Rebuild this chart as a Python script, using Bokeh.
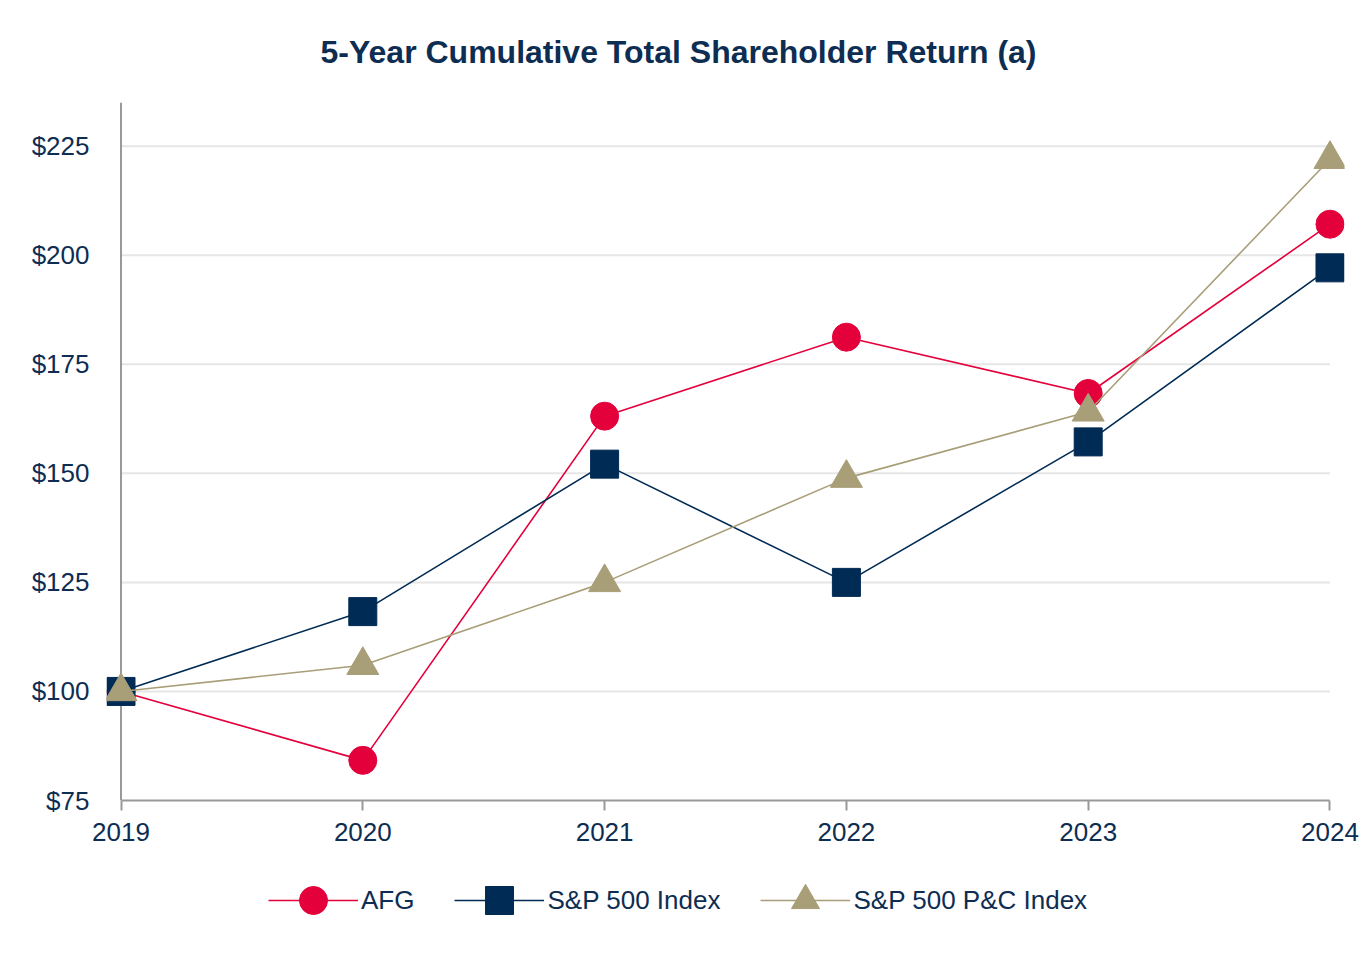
from bokeh.plotting import figure
from bokeh.layouts import column
from bokeh.models import Range1d, FixedTicker, Legend, LegendItem
from bokeh.embed import file_html
from bokeh.resources import INLINE

# ---- data ----
years = [2019, 2020, 2021, 2022, 2023, 2024]
year_labels = ["2019", "2020", "2021", "2022", "2023", "2024"]
afg = [100, 84.2, 163.1, 181.2, 168.3, 207.1]
sp500 = [100, 118.3, 152.1, 125.0, 157.2, 197.1]
sp_pc = [100, 106.0, 125.0, 148.9, 164.1, 222.0]
y_ticks = [75, 100, 125, 150, 175, 200, 225]
y_tick_labels = ["$75", "$100", "$125", "$150", "$175", "$200", "$225"]
series_names = ["AFG", "S&P 500 Index", "S&P 500 P&C Index"]
title_text = "5-Year Cumulative Total Shareholder Return (a)"
y_min, y_max = 75, 235

# ---- style ----
RED = "#E4003B"
NAVY = "#002B54"
TAN = "#A89E78"
TEXT = "#0E2D52"
AXIS = "#999999"
GRID = "#E6E6E6"
FONT = "Liberation Sans"

W = 1364
p = figure(width=W, height=860, output_backend="svg", toolbar_location=None,
           x_range=Range1d(2018.94, 2024.06), y_range=Range1d(y_min, y_max),
           min_border_left=106, min_border_right=20, min_border_top=102,
           min_border_bottom=60, outline_line_color=None)

p.title.text = title_text
p.title.align = "left"
p.title.offset = 214
p.title.vertical_align = "top"
p.title.text_font = FONT
p.title.text_font_size = "32px"
p.title.text_font_style = "bold"
p.title.text_color = TEXT
p.title.standoff = 62

p.xgrid.visible = False
p.ygrid.visible = False

# horizontal gridlines bounded to the year span
gv = y_ticks[1:]
p.segment(x0=[years[0]] * len(gv), y0=gv, x1=[years[-1]] * len(gv), y1=gv,
          line_color=GRID, line_width=2)
# vertical axis line at the first year
p.segment(x0=[years[0]], y0=[y_min], x1=[years[0]], y1=[y_max],
          line_color=AXIS, line_width=2)

# x axis
xa = p.xaxis[0]
xa.ticker = FixedTicker(ticks=years)
xa.major_label_overrides = {y: l for y, l in zip(years, year_labels)}
xa.bounds = (years[0], years[-1])
xa.axis_line_color = AXIS
xa.axis_line_width = 2
xa.major_tick_line_color = AXIS
xa.major_tick_line_width = 2
xa.major_tick_out = 10
xa.major_tick_in = 0
xa.minor_tick_line_color = None
xa.major_label_standoff = 12
xa.major_label_text_font = FONT
xa.major_label_text_font_size = "26px"
xa.major_label_text_color = TEXT

# y axis
ya = p.yaxis[0]
ya.ticker = FixedTicker(ticks=y_ticks)
ya.major_label_overrides = {v: l for v, l in zip(y_ticks, y_tick_labels)}
ya.axis_line_color = None
ya.major_tick_line_color = None
ya.minor_tick_line_color = None
ya.major_label_standoff = 11
ya.major_label_text_font = FONT
ya.major_label_text_font_size = "26px"
ya.major_label_text_color = TEXT

# legend strip below the chart (its own series renderers lie outside its view)
lg = figure(width=W, height=100, output_backend="svg", toolbar_location=None,
            x_range=Range1d(0, 1), y_range=Range1d(0, 1),
            x_axis_type=None, y_axis_type=None, outline_line_color=None,
            min_border_left=0, min_border_right=0, min_border_top=0,
            min_border_bottom=0)
lg.xgrid.visible = False
lg.ygrid.visible = False

styles = [(RED, "circle", 28), (NAVY, "square", 28), (TAN, "triangle", 32)]
items = []
for name, vals, (col, mk, sz) in zip(series_names, [afg, sp500, sp_pc], styles):
    p.line(years, vals, line_color=col, line_width=1.6)
    p.scatter(years, vals, marker=mk, size=sz, fill_color=col, line_color=col)
    dl = lg.line(years, vals, line_color=col, line_width=1.6)
    ds = lg.scatter(years, vals, marker=mk, size=sz, fill_color=col, line_color=col)
    items.append(LegendItem(label=name, renderers=[dl, ds]))

legend = Legend(items=items, orientation="horizontal", location=(162, 25),
                border_line_color=None, background_fill_alpha=0,
                glyph_width=90, glyph_height=70, label_text_font=FONT,
                label_text_font_size="26px", label_text_color=TEXT,
                spacing=40, label_standoff=3, padding=0, margin=0)
lg.add_layout(legend)

page = column(p, lg, spacing=0)
open("out.html", "w").write(file_html(page, INLINE))
